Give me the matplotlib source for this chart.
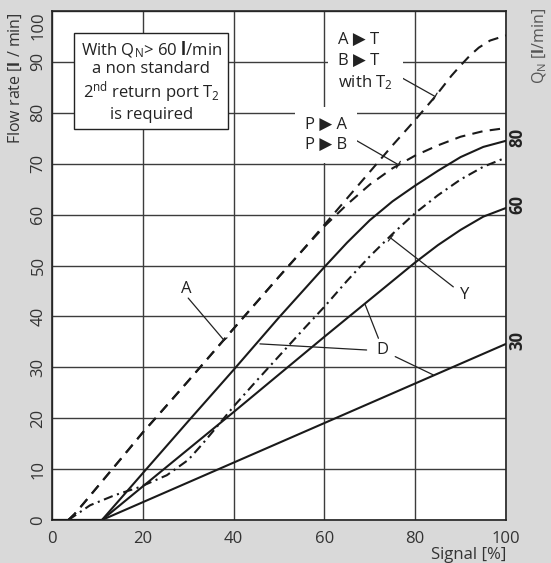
import numpy as np
import matplotlib
matplotlib.use("Agg")
import matplotlib.pyplot as plt
import matplotlib.transforms as mtransforms
from matplotlib.patches import Rectangle

plt.rcParams['font.family'] = ['Open Sans', 'DejaVu Sans']
plt.rcParams['mathtext.fontset'] = 'custom'
plt.rcParams['mathtext.rm'] = 'Open Sans'
plt.rcParams['mathtext.it'] = 'Open Sans:italic'
plt.rcParams['mathtext.bf'] = 'Open Sans:bold'

# ---------------- data ----------------
x_ticks = [0, 20, 40, 60, 80, 100]
y_ticks = [0, 10, 20, 30, 40, 50, 60, 70, 80, 90, 100]

# solid curves (nominal flow 80, 60, 30 l/min)
sig_80 = [0, 11, 20, 30, 40, 50, 60, 65, 70, 75, 80, 85, 90, 95, 100]
q_80 = [0, 0, 9.2, 19.4, 29.5, 39.8, 49.7, 54.5, 58.9, 62.6, 65.7, 68.6, 71.3, 73.3, 74.5]

sig_60 = [0, 11, 20, 30, 40, 50, 60, 70, 80, 85, 90, 95, 100]
q_60 = [0, 0, 6.6, 13.9, 21.2, 28.6, 36.0, 43.3, 50.6, 54.0, 57.0, 59.6, 61.3]

sig_30 = [0, 11, 100]
q_30 = [0, 0, 34.6]

# dashed trunk (common to A->T and P->A)
sig_common = [3.6, 5, 7, 10, 13, 16, 20, 23, 30, 40, 50, 55]
q_common = [0, 1.2, 3.3, 6.5, 9.7, 12.9, 17.2, 20.2, 27.3, 37.6, 47.8, 52.8]
# A->T / B->T with T2 branch
sig_AT = [60, 65, 70, 75, 80, 84.5, 88, 90, 92, 94, 96.5, 100]
q_AT = [58, 63.2, 68.4, 73.6, 78.6, 83.3, 87.3, 89.3, 91.2, 92.8, 94.2, 95.2]
# P->A / P->B branch
sig_PA = [60, 65, 70, 75, 80, 85, 90, 95, 100]
q_PA = [57.7, 62.0, 65.9, 69.1, 71.6, 73.6, 75.3, 76.4, 77.0]

# dash-dot curve Y
sig_Y = [3.6, 8.4, 13.9, 19.4, 25.3, 30, 33, 36.3, 40, 45, 50, 55, 60, 65, 70, 75, 80, 85, 90, 95, 100]
q_Y = [0, 2.9, 4.9, 6.5, 8.8, 11.8, 14.8, 18.3, 22.3, 27.3, 32.2, 37.1, 41.9, 47.0, 51.8, 56.2, 60.3, 63.8, 66.9, 69.4, 71.2]

qn_labels = ['80', '60', '30']

# ---------------- figure ----------------
W, H = 551, 563
fig = plt.figure(figsize=(W / 100, H / 100), dpi=100, facecolor='#d9d9d9')
ax = fig.add_axes([52 / W, 43 / H, 454 / W, 509 / H])
ax.set_facecolor('white')
ax.set_xlim(0, 100)
ax.set_ylim(0, 100)
ax.set_xticks(x_ticks)
ax.set_yticks(y_ticks)
ylabs = ax.set_yticklabels([str(v) for v in y_ticks], rotation=90, va='center')
ylabs[-1].set_va('top')
ax.tick_params(length=0, labelsize=12, colors='#333333')
ax.tick_params(axis='x', pad=8)
ax.tick_params(axis='y', pad=4)
ax.grid(True, color='#3c3c3c', lw=1.0)
ax.set_axisbelow(True)
for sp in ax.spines.values():
    sp.set_linewidth(1.2)
    sp.set_color('#222222')

lc = '#1a1a1a'
lw = 1.5
ax.plot(sig_80, q_80, color=lc, lw=lw, zorder=3, solid_joinstyle='round')
ax.plot(sig_60, q_60, color=lc, lw=lw, zorder=3, solid_joinstyle='round')
ax.plot(sig_30, q_30, color=lc, lw=lw, zorder=3)
dash = (0, (5, 3.5))
ax.plot(sig_common + sig_AT, q_common + q_AT, color=lc, lw=lw, ls=dash, zorder=3)
ax.plot(sig_common + sig_PA, q_common + q_PA, color=lc, lw=lw, ls=dash, zorder=3)
ax.plot(sig_Y, q_Y, color=lc, lw=lw, ls=(0, (4.5, 2.2, 1, 2.2)), zorder=3)

# x / y labels
ax.set_xlabel('Signal [%]', loc='right', fontsize=12, color='#333333', labelpad=0)
ax.set_ylabel(r'Flow rate [$\mathbf{l}$ / min]', fontsize=11.5, color='#333333')
ax.yaxis.set_label_coords(-28 / 454, 1 - 67 / 509)

# right-hand labels
fig.text(540 / W, 1 - 46 / H, r'Q$_\mathregular{N}$ [$\mathbf{l}$/min]', rotation=90,
         ha='center', va='center', fontsize=11.5, color='#555555')
tr = mtransforms.blended_transform_factory(ax.transAxes, ax.transData)
for lab, yy in zip(qn_labels, [q_80[-1], q_60[-1], q_30[-1]]):
    ax.text(1.026, yy + 0.6, lab, transform=tr, rotation=90, ha='center', va='center',
            fontsize=12, fontweight='bold', color='#222222', clip_on=False)

# note box
ax.add_patch(Rectangle((0.0485, 0.7676), 0.3398, 0.1885, transform=ax.transAxes,
                       facecolor='white', edgecolor='#222222', lw=1.0, zorder=4))
ax.text(0.2185, 0.862,
        'With Q$_\\mathregular{N}$> 60 $\\mathbf{l}$/min\na non standard\n'
        '2$^\\mathregular{nd}$ return port T$_\\mathregular{2}$\nis required',
        transform=ax.transAxes, ha='center', va='center', multialignment='center',
        fontsize=12, color='#222222', linespacing=1.12, zorder=5)

# leader helpers
def leader(start, end, tick=True):
    style = '-[, widthB=0.28, lengthB=0' if tick else '-'
    ax.annotate('', xy=end, xytext=start,
                arrowprops=dict(arrowstyle=style, lw=0.9, color='#222222',
                                shrinkA=0, shrinkB=0), zorder=6)

tkw = dict(fontsize=12, color='#222222', zorder=7)

# A
ax.text(29.5, 45.4, 'A', ha='center', va='center', **tkw)
leader((30.0, 43.6), (37.9, 35.3))
# D
ax.text(72.8, 33.4, 'D', ha='center', va='center', **tkw)
leader((69.3, 33.4), (45.8, 34.6), tick=False)
leader((71.9, 35.7), (68.9, 42.5), tick=False)
leader((75.6, 32.1), (84.0, 28.5), tick=False)
# Y
ax.text(91.0, 44.2, 'Y', ha='center', va='center', **tkw)
leader((88.4, 45.8), (74.6, 55.4))
# A->T
ax.text(63.0, 89.9, 'A ▶ T\nB ▶ T\nwith T$_\\mathregular{2}$', ha='left', va='center',
        multialignment='left', linespacing=1.36,
        bbox=dict(facecolor='white', edgecolor='none', pad=7), **tkw)
leader((74.0, 88.4), (84.4, 83.2))
# P->A
ax.text(55.7, 75.6, 'P ▶ A\nP ▶ B', ha='left', va='center', multialignment='left',
        linespacing=1.36, bbox=dict(facecolor='white', edgecolor='none', pad=7), **tkw)
leader((65.6, 75.3), (76.3, 69.8))

fig.savefig('out.png', dpi=100, facecolor=fig.get_facecolor())
